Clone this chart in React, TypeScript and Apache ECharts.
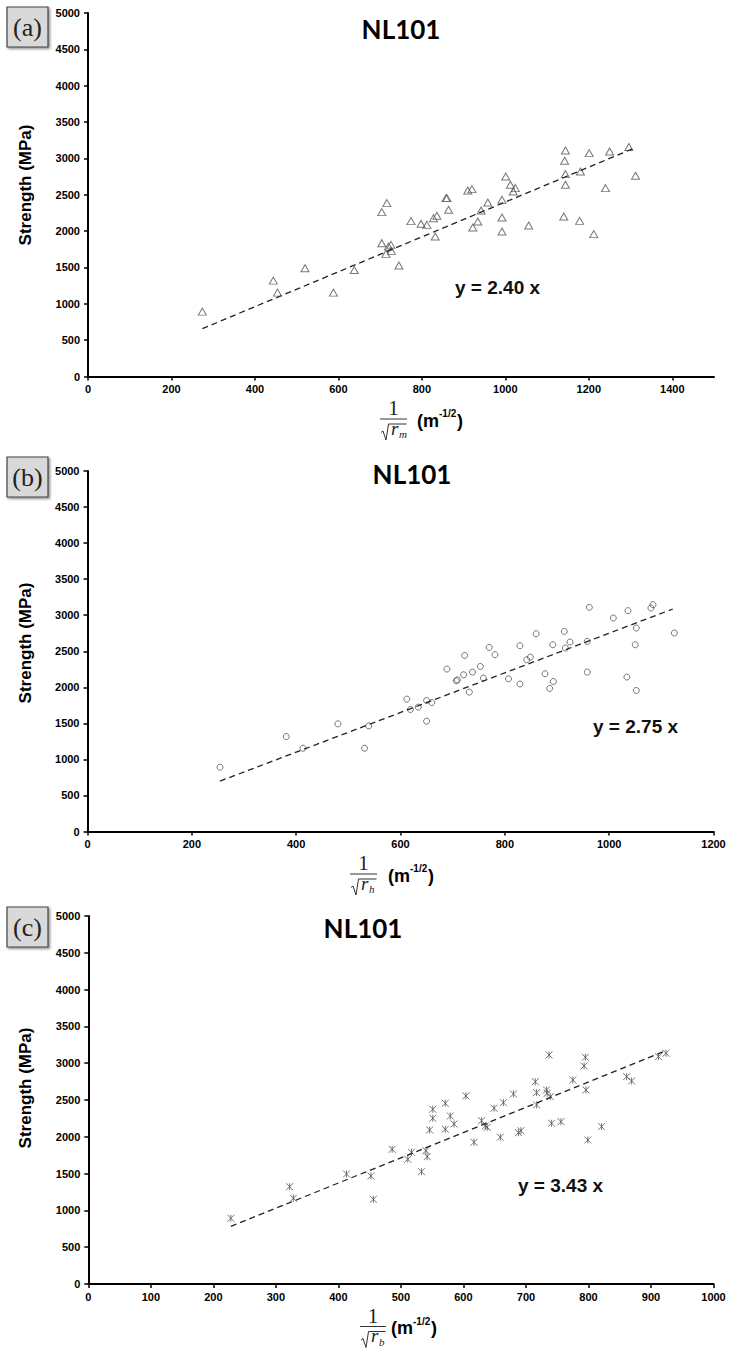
import React, { useEffect, useRef } from "react";
import * as echarts from "echarts";

// ---------- data ----------
const yTicks = [0, 500, 1000, 1500, 2000, 2500, 3000, 3500, 4000, 4500, 5000];
const xTicksA = [0, 200, 400, 600, 800, 1000, 1200, 1400];
const xTicksB = [0, 200, 400, 600, 800, 1000, 1200];
const xTicksC = [0, 100, 200, 300, 400, 500, 600, 700, 800, 900, 1000];

// (a) 1/sqrt(r_m) vs strength
const xA = [274, 444, 454, 520, 588, 638, 704, 716, 704, 714, 720, 726, 727, 745, 774, 798, 812, 828, 836, 832, 858, 860, 864, 910, 920, 922, 934, 942, 958, 992, 992, 992, 1001, 1012, 1019, 1024, 1056, 1140, 1144, 1142, 1144, 1144, 1178, 1180, 1201, 1212, 1240, 1250, 1296, 1312];
const yA = [892, 1319, 1154, 1490, 1154, 1466, 2261, 2385, 1834, 1687, 1787, 1811, 1728, 1526, 2137, 2100, 2086, 2178, 2210, 1925, 2454, 2454, 2293, 2558, 2577, 2049, 2132, 2283, 2393, 2430, 2187, 1994, 2751, 2637, 2545, 2591, 2077, 2201, 3109, 2967, 2784, 2637, 2141, 2820, 3073, 1958, 2591, 3096, 3156, 2761];
const fitXA = [274, 1310];
const fitYA = [658, 3144];

// (b) 1/sqrt(r_h) vs strength
const xB = [254, 381, 413, 480, 531, 539, 612, 619, 634, 650, 650, 660, 689, 707, 709, 721, 723, 732, 738, 753, 759, 770, 781, 807, 829, 829, 842, 849, 860, 877, 886, 893, 892, 914, 916, 925, 958, 958, 962, 1008, 1034, 1036, 1050, 1052, 1052, 1080, 1084, 1125];
const yB = [892, 1317, 1155, 1493, 1155, 1465, 1836, 1692, 1725, 1817, 1530, 1789, 2253, 2090, 2104, 2174, 2442, 1933, 2211, 2289, 2128, 2553, 2452, 2118, 2577, 2045, 2382, 2419, 2743, 2188, 1984, 2081, 2590, 2775, 2545, 2628, 2637, 2211, 3109, 2961, 2142, 3063, 2590, 2822, 1956, 3100, 3146, 2753];
const fitXB = [254, 1122];
const fitYB = [699, 3086];

// (c) 1/sqrt(r_b) vs strength
const xC = [228, 322, 328, 413, 452, 456, 486, 517, 511, 533, 540, 542, 546, 551, 551, 571, 571, 579, 585, 604, 617, 629, 635, 638, 649, 659, 664, 680, 688, 692, 715, 717, 717, 733, 734, 737, 739, 741, 756, 775, 795, 793, 796, 799, 821, 861, 869, 912, 924];
const yC = [893, 1322, 1165, 1495, 1468, 1151, 1830, 1790, 1695, 1526, 1812, 1730, 2093, 2252, 2374, 2102, 2456, 2283, 2174, 2555, 1926, 2219, 2147, 2129, 2388, 1994, 2464, 2582, 2056, 2083, 2749, 2600, 2433, 2636, 2591, 3112, 2545, 2184, 2206, 2772, 3081, 2963, 2637, 1957, 2138, 2817, 2759, 3089, 3135];
const fitXC = [228, 925];
const fitYC = [782, 3173];

const panelLetters = ["(a)", "(b)", "(c)"];
const titles = ["NL101", "NL101", "NL101"];
const equations = ["y = 2.40 x", "y = 2.75 x", "y = 3.43 x"];
const radiusSubs = ["m", "h", "b"];
const unitText = "(m";
const unitSup = "-1/2";
const yName = "Strength (MPa)";

// ---------- layout / style ----------
const SANS = "'Liberation Sans', Arial, sans-serif";
const SERIF = "'Liberation Serif', 'Times New Roman', serif";

const panels = [
  { grid: { left: 88, top: 13, width: 626, height: 363.5 }, xMax: 1500, xTicks: xTicksA, xs: xA, ys: yA, fx: fitXA, fy: fitYA,
    symbol: "triangle", symbolSize: [8, 7], box: 7, titleX: 401, titleY: 29, eqX: 455, eqY: 287, barX0: 380, barX1: 407, mX: 417 },
  { grid: { left: 87.5, top: 471, width: 626, height: 360.5 }, xMax: 1200, xTicks: xTicksB, xs: xB, ys: yB, fx: fitXB, fy: fitYB,
    symbol: "circle", symbolSize: 6, box: 457, titleX: 412, titleY: 474, eqX: 593, eqY: 726, barX0: 350, barX1: 377, mX: 388 },
  { grid: { left: 88.3, top: 916, width: 625.2, height: 368 }, xMax: 1000, xTicks: xTicksC, xs: xC, ys: yC, fx: fitXC, fy: fitYC,
    symbol: "path://M0 0L10 10M10 0L0 10M5 0L5 10", symbolSize: 7, box: 907, titleX: 363, titleY: 928, eqX: 518, eqY: 1185, barX0: 360, barX1: 386, mX: 391 },
];

const plain = (v: number) => String(v);

function buildOption() {
  const grid: any[] = [];
  const xAxis: any[] = [];
  const yAxis: any[] = [];
  const series: any[] = [];
  const graphic: any[] = [];

  panels.forEach((p, i) => {
    grid.push({ ...p.grid, containLabel: false, outerBoundsMode: "none", show: false });
    xAxis.push({
      gridIndex: i, type: "value", min: 0, max: p.xMax,
      axisLine: { show: true, onZero: false, lineStyle: { color: "#000", width: 2 } },
      axisTick: { show: true, inside: false, length: 4, lineStyle: { color: "#000", width: 1.5 }, customValues: p.xTicks },
      axisLabel: { show: true, customValues: p.xTicks, formatter: plain, color: "#000", fontWeight: "bold", fontSize: 11, fontFamily: SANS, margin: 7 },
      splitLine: { show: false },
    });
    yAxis.push({
      gridIndex: i, type: "value", min: 0, max: 5000, interval: 500,
      axisLine: { show: true, onZero: false, lineStyle: { color: "#000", width: 2 } },
      axisTick: { show: true, inside: false, length: 4, lineStyle: { color: "#000", width: 1.5 }, customValues: yTicks },
      axisLabel: { show: true, customValues: yTicks, formatter: plain, color: "#000", fontWeight: "bold", fontSize: 11, fontFamily: SANS, margin: 8 },
      splitLine: { show: false },
    });
    series.push({
      type: "scatter", xAxisIndex: i, yAxisIndex: i, symbol: p.symbol, symbolSize: p.symbolSize,
      data: p.xs.map((x, k) => [x, p.ys[k]]),
      itemStyle: { color: "rgba(0,0,0,0)", borderColor: "#555", borderWidth: 1 },
      silent: true, z: 3,
    });
    series.push({
      type: "line", xAxisIndex: i, yAxisIndex: i, showSymbol: false, silent: true,
      data: p.fx.map((x, k) => [x, p.fy[k]]),
      lineStyle: { color: "#222", width: 1.3, type: [6, 4] }, z: 4,
    });

    const bottom = p.grid.top + p.grid.height;
    graphic.push({
      type: "rect", shape: { x: 7, y: p.box, width: 41, height: 40 },
      style: { fill: "#d9d9d9", stroke: "#444", lineWidth: 1.2, shadowBlur: 2, shadowOffsetX: 1.5, shadowOffsetY: 1.5, shadowColor: "rgba(0,0,0,0.45)" },
    });
    graphic.push({
      type: "text", x: 27.5, y: p.box + 20,
      style: { text: panelLetters[i], font: `26px ${SERIF}`, fill: "#222", align: "center", verticalAlign: "middle" },
    });
    graphic.push({
      type: "text", x: p.titleX, y: p.titleY,
      style: { text: titles[i], font: `bold 26px Lato, 'Open Sans', sans-serif`, fill: "#000", align: "center", verticalAlign: "middle" },
    });
    graphic.push({
      type: "text", x: p.eqX, y: p.eqY,
      style: { text: equations[i], font: `bold 19px ${SANS}`, fill: "#111", align: "left", verticalAlign: "middle" },
    });
    graphic.push({
      type: "text", x: 25, y: p.grid.top + 172, rotation: Math.PI / 2,
      style: { text: yName, font: `bold 17px ${SANS}`, fill: "#000", align: "center", verticalAlign: "middle" },
    });
    const cx = (p.barX0 + p.barX1) / 2;
    graphic.push({
      type: "text", x: cx, y: bottom + 31.5,
      style: { text: "1", font: `21px ${SERIF}`, fill: "#222", align: "center", verticalAlign: "middle" },
    });
    graphic.push({
      type: "line", shape: { x1: p.barX0, y1: bottom + 42.5, x2: p.barX1, y2: bottom + 42.5 },
      style: { stroke: "#333", lineWidth: 1 },
    });
    graphic.push({
      type: "polyline",
      shape: { points: [[p.barX0 + 1, bottom + 56], [p.barX0 + 3, bottom + 54.5], [p.barX0 + 6, bottom + 63.5], [p.barX0 + 8.5, bottom + 47.5], [p.barX1 - 0.5, bottom + 47.5]] },
      style: { stroke: "#333", lineWidth: 1, fill: null },
    });
    graphic.push({
      type: "text", x: p.barX0 + 11, y: bottom + 61,
      style: { text: "r", font: `italic 19px ${SERIF}`, fill: "#222", align: "left", verticalAlign: "bottom" },
    });
    graphic.push({
      type: "text", x: p.barX0 + 19, y: bottom + 63,
      style: { text: radiusSubs[i], font: `italic 11px ${SERIF}`, fill: "#222", align: "left", verticalAlign: "bottom" },
    });
    graphic.push({
      type: "text", x: p.mX, y: bottom + 44,
      style: { text: unitText, font: `bold 18px ${SANS}`, fill: "#000", align: "left", verticalAlign: "middle" },
    });
    graphic.push({
      type: "text", x: p.mX + 22, y: bottom + 37,
      style: { text: unitSup, font: `bold 10px ${SANS}`, fill: "#000", align: "left", verticalAlign: "middle" },
    });
    graphic.push({
      type: "text", x: p.mX + 40, y: bottom + 44,
      style: { text: ")", font: `bold 18px ${SANS}`, fill: "#000", align: "left", verticalAlign: "middle" },
    });
  });

  return { animation: false, backgroundColor: "#fff", grid, xAxis, yAxis, series, graphic };
}

export default function App() {
  const ref = useRef<HTMLDivElement>(null);
  useEffect(() => {
    document.body.style.margin = "0";
    if (!ref.current) return;
    const chart = echarts.init(ref.current, undefined, { renderer: "svg" });
    chart.setOption(buildOption() as any);
    return () => chart.dispose();
  }, []);
  return <div ref={ref} style={{ width: 731, height: 1352 }} />;
}
